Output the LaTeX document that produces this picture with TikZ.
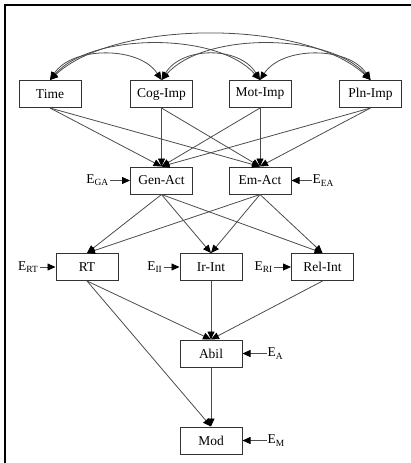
\documentclass[tikz,border=0pt]{standalone}
\usepackage{fontspec}
\setmainfont{Liberation Serif}
\usetikzlibrary{positioning, arrows.meta}

\begin{document}
\begin{tikzpicture}[
    x=1pt, y=-1pt,
    node distance=20pt,
    font=\fontsize{13.5}{16}\selectfont,
    var/.style={rectangle, draw=black!80, line width=1pt, minimum width=62pt, minimum height=27pt, inner sep=2pt},
    err/.style={inner sep=1pt},
    link/.style={draw=black!70, line width=0.8pt, -{Triangle[length=8pt, width=7pt, black]}},
    cov/.style={draw=black!70, line width=0.8pt, {Triangle[length=8pt, width=7pt, black]}-{Triangle[length=8pt, width=7pt, black]}}
]
\useasboundingbox (0,0) rectangle (411,463);

% Frame
\draw[line width=1.3pt] (411,5) -- (5,5) -- (5,463);

% Exogenous variables
\node[var] (time) at (50,94) {Time};
\node[var] (cog) at (161.5,94) {Cog-Imp};
\node[var] (mot) at (260,94) {Mot-Imp};
\node[var] (pln) at (370.5,94) {Pln-Imp};

% Activities
\node[var] (gen) at (161.5,180.5) {Gen-Act};
\node[var] (em) at (260,180.5) {Em-Act};
\node[err, left=of gen] (egen) {E\textsubscript{GA}};
\node[err, right=of em] (eem) {E\textsubscript{EA}};

% Interests
\node[var] (rt) at (87,267) {RT};
\node[var] (ir) at (211,267) {Ir-Int};
\node[var] (rel) at (322.5,267) {Rel-Int};
\node[err, left=16pt of rt] (ert) {E\textsubscript{RT}};
\node[err, left=16pt of ir] (eir) {E\textsubscript{II}};
\node[err, left=17pt of rel] (erel) {E\textsubscript{RI}};

% Ability and model
\node[var] (abil) at (211,353.5) {Abil};
\node[var] (mod) at (211,440.5) {Mod};
\node[err, right=24pt of abil] (eabil) {E\textsubscript{A}};
\node[err, right=24pt of mod] (emod) {E\textsubscript{M}};

% Correlations between exogenous variables
\draw[cov] (time.north) .. controls +(22,-34) and +(-22,-34) .. (cog.north);
\draw[cov] (time.north) .. controls +(42,-48) and +(-42,-48) .. (mot.north);
\draw[cov] (time.north) .. controls +(65,-61) and +(-65,-61) .. (pln.north);
\draw[cov] (cog.north) .. controls +(20,-34) and +(-20,-34) .. (mot.north);
\draw[cov] (cog.north) .. controls +(42,-48) and +(-42,-48) .. (pln.north);
\draw[cov] (mot.north) .. controls +(22,-34) and +(-22,-34) .. (pln.north);

% Exogenous to activities
\foreach \s in {time, cog, mot, pln}
{
    \draw[link] (\s.south) -- (gen.north);
    \draw[link] (\s.south) -- (em.north);
}

% Activities to interests
\foreach \s in {gen, em}
{
    \foreach \t in {rt, ir, rel}
        \draw[link] (\s.south) -- (\t.north);
}

% Interests to ability and model
\draw[link] (rt.south) -- (abil.north);
\draw[link] (ir.south) -- (abil.north);
\draw[link] (rel.south) -- (abil.north);
\draw[link] (rt.south) -- (mod.north);
\draw[link] (abil.south) -- (mod.north);

% Error terms
\draw[link] (egen) -- (gen);
\draw[link] (eem) -- (em);
\draw[link] (ert) -- (rt);
\draw[link] (eir) -- (ir);
\draw[link] (erel) -- (rel);
\draw[link] (eabil) -- (abil);
\draw[link] (emod) -- (mod);

\end{tikzpicture}
\end{document}
